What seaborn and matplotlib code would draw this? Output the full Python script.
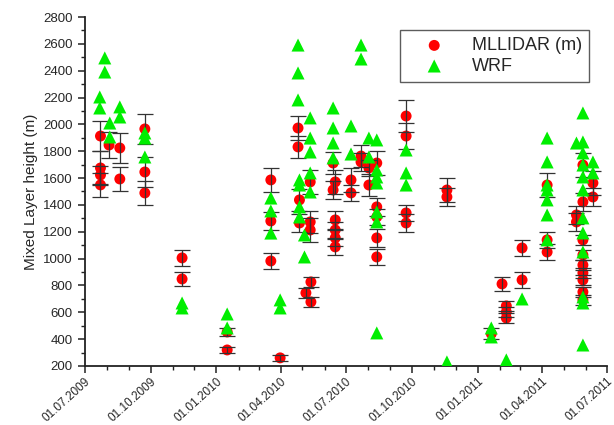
import matplotlib
matplotlib.use("Agg")
import matplotlib.dates as mdates
import matplotlib.pyplot as plt
import pandas as pd
import seaborn as sns


# MLLIDAR retrievals (date, mixed layer height, uncertainty)
LIDAR_DATES = [
    "2009-07-23", "2009-07-23", "2009-07-23", "2009-07-23", "2009-08-04", "2009-08-19",
    "2009-08-19", "2009-09-23", "2009-09-23", "2009-09-23",
    "2009-11-14", "2009-11-14",
    "2010-01-16", "2010-01-16",
    "2010-03-18", "2010-03-18", "2010-03-18", "2010-03-31",
    "2010-04-25", "2010-04-25", "2010-04-27", "2010-04-27",
    "2010-05-12", "2010-05-12", "2010-05-12", "2010-05-13", "2010-05-06", "2010-05-13",
    "2010-06-13", "2010-06-13", "2010-06-16", "2010-06-16", "2010-06-16", "2010-06-16",
    "2010-06-16",
    "2010-07-08", "2010-07-08", "2010-07-22", "2010-07-22", "2010-08-02", "2010-08-02",
    "2010-08-13", "2010-08-13", "2010-08-13", "2010-08-13", "2010-08-13",
    "2010-09-23", "2010-09-23", "2010-09-23", "2010-09-23",
    "2010-11-19", "2010-11-19",
    "2011-01-20", "2011-02-04", "2011-02-10", "2011-02-10", "2011-02-10",
    "2011-03-04", "2011-03-04",
    "2011-04-08", "2011-04-08", "2011-04-08",
    "2011-05-19", "2011-05-19", "2011-05-28", "2011-05-28", "2011-05-28", "2011-05-28",
    "2011-05-28", "2011-05-28", "2011-05-28", "2011-05-28", "2011-05-28",
    "2011-06-11", "2011-06-11",
]
LIDAR_MLH = [
    1913, 1675, 1623, 1549, 1846, 1824,
    1593, 1966, 1645, 1489,
    1005, 848,
    453, 319,
    1586, 1280, 982, 260,
    1973, 1832, 1437, 1265,
    1571, 1273, 1213, 826, 744, 677,
    1712, 1511, 1571, 1288, 1213, 1154,
    1087,
    1586, 1489, 1764, 1720, 1675, 1548,
    1712, 1385, 1310, 1154, 1012,
    2062, 1913, 1340, 1265,
    1511, 1459,
    440, 811, 647, 602, 557,
    1079, 841,
    1548, 1139, 1049,
    1325, 1273, 1697, 1422, 1139, 1027, 952,
    893, 841, 751, 692,
    1563, 1459,
]
LIDAR_ERR = [
    110, 130, 70, 90, 100, 110,
    90, 110, 110, 90,
    60, 50,
    30, 20,
    90, 70, 60, 20,
    90, 80, 80, 70,
    90, 80, 90, 40, 40, 40,
    80, 70, 90, 70, 60, 60,
    60,
    90, 60, 80, 70, 60, 80,
    90, 70, 60, 70, 60,
    120, 100, 60, 70,
    90, 70,
    40, 50, 40, 40, 40,
    60, 60,
    90, 60, 60,
    70, 70, 90, 70, 40, 40, 40,
    40, 40, 40, 40,
    90, 70,
]

# WRF simulated mixed layer height
WRF_DATES = [
    "2009-07-29", "2009-07-29", "2009-07-22", "2009-07-22", "2009-08-05", "2009-08-05",
    "2009-08-19", "2009-08-19", "2009-09-23", "2009-09-23", "2009-09-23",
    "2009-11-14", "2009-11-14",
    "2010-01-16", "2010-01-16",
    "2010-03-18", "2010-03-18", "2010-03-18", "2010-03-31", "2010-03-31",
    "2010-04-25", "2010-04-25", "2010-04-25", "2010-04-27", "2010-04-27", "2010-04-27",
    "2010-04-27",
    "2010-05-12", "2010-05-12", "2010-05-12", "2010-05-12", "2010-05-12", "2010-05-04",
    "2010-05-04",
    "2010-06-13", "2010-06-13", "2010-06-13", "2010-06-13",
    "2010-07-08", "2010-07-08", "2010-07-22", "2010-07-22", "2010-08-02", "2010-08-02",
    "2010-08-13", "2010-08-13", "2010-08-13", "2010-08-13", "2010-08-13", "2010-08-13",
    "2010-08-13",
    "2010-09-23", "2010-09-23", "2010-09-23",
    "2010-11-19",
    "2011-01-20", "2011-01-20", "2011-02-10", "2011-03-04",
    "2011-04-08", "2011-04-08", "2011-04-08", "2011-04-08", "2011-04-08", "2011-04-08",
    "2011-04-08",
    "2011-05-19", "2011-05-28", "2011-05-28", "2011-05-28", "2011-05-28", "2011-05-28",
    "2011-05-28", "2011-05-28", "2011-05-28", "2011-05-28", "2011-05-28", "2011-05-28",
    "2011-05-28", "2011-06-11", "2011-06-11",
]
WRF_MLH = [
    2495, 2390, 2204, 2122, 2010, 1906,
    2130, 2055, 1936, 1898, 1757,
    669, 632,
    587, 483,
    1451, 1355, 1190, 692, 632,
    2591, 2383, 2182, 1586, 1548, 1385,
    1310,
    2048, 1898, 1794, 1638, 1496, 1176,
    1012,
    2122, 1973, 1861, 1750,
    1988, 1779, 2591, 2487, 1898, 1757,
    1884, 1660, 1608, 1563, 1347, 1273,
    446,
    1809, 1638, 1548,
    230,
    483, 416, 245, 699,
    1898, 1720, 1548, 1511, 1437, 1325,
    1139,
    1861, 2085, 1787, 1697, 1608, 1511, 1303,
    1191, 1049, 714, 669, 356, 1869,
    1720, 1638,
]

Y_TICKS = list(range(200, 2801, 200))


def main():
    lidar = pd.DataFrame({"date": pd.to_datetime(LIDAR_DATES), "mlh": LIDAR_MLH, "err": LIDAR_ERR})
    wrf = pd.DataFrame({"date": pd.to_datetime(WRF_DATES), "mlh": WRF_MLH})

    sns.set_style("ticks")
    plt.rcParams["font.family"] = ["Liberation Sans", "DejaVu Sans"]

    fig = plt.figure(figsize=(6.14, 4.25), dpi=100)
    ax = fig.add_axes([0.138, 0.139, 0.851, 0.821])

    sns.scatterplot(data=lidar, x="date", y="mlh", color="#ff0000", marker="o",
                    s=62, edgecolor="none", label="MLLIDAR (m)", zorder=3, ax=ax)
    ax.errorbar(lidar["date"], lidar["mlh"], yerr=lidar["err"], fmt="none",
                ecolor="#333333", elinewidth=0.9, capsize=5.5, capthick=0.9, zorder=4)
    sns.scatterplot(data=wrf, x="date", y="mlh", color="#00ee00", marker="^",
                    s=88, edgecolor="none", label="WRF", zorder=5, ax=ax)

    ax.set_xlim(pd.Timestamp("2009-07-01"), pd.Timestamp("2011-07-01"))
    ax.set_ylim(200, 2800)
    ax.set_yticks(Y_TICKS)
    ax.yaxis.set_minor_locator(matplotlib.ticker.MultipleLocator(100))
    ax.xaxis.set_major_locator(mdates.MonthLocator(bymonth=[1, 4, 7, 10]))
    ax.xaxis.set_minor_locator(mdates.MonthLocator())
    ax.xaxis.set_major_formatter(mdates.DateFormatter("%d.%m.%Y"))

    ax.tick_params(axis="both", which="major", length=5, width=1.1, color="#222222")
    ax.tick_params(axis="y", which="major", labelsize=9.5)
    ax.tick_params(axis="x", which="major", labelsize=8.5, pad=2)
    ax.tick_params(axis="both", which="minor", length=3, width=1.0, color="#222222")
    plt.setp(ax.get_xticklabels(), rotation=42, ha="right", rotation_mode="anchor")
    ax.set_xlabel("")
    ax.set_ylabel("Mixed Layer height (m)", fontsize=11)
    sns.despine(ax=ax)
    for side in ["left", "bottom"]:
        ax.spines[side].set_color("#222222")
        ax.spines[side].set_linewidth(1.3)

    ax.legend(loc="upper right", bbox_to_anchor=(0.966, 0.963), frameon=True, fancybox=False,
              edgecolor="#333333", fontsize=13, handlelength=3.0, handletextpad=0.6,
              borderpad=0.4, labelspacing=0.2, markerscale=1.0, borderaxespad=0.0)

    fig.savefig("out.png", dpi=100)
    plt.close(fig)


if __name__ == "__main__":
    main()
